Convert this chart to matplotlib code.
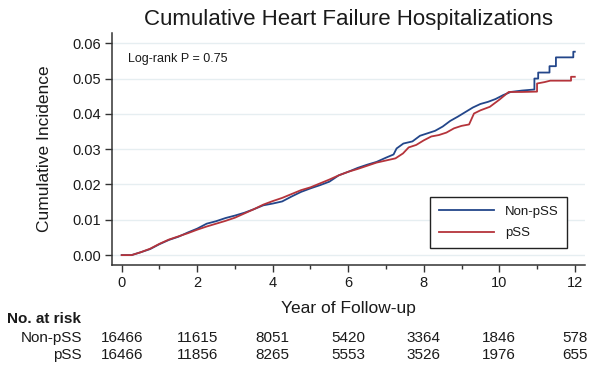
import matplotlib
matplotlib.use('Agg')
from matplotlib import pyplot as plt
from matplotlib.ticker import MultipleLocator
import matplotlib.transforms as mtransforms

# curve knots (year, cumulative incidence)
# repeated years mark the visible vertical steps near the end of follow-up
nonpssT = [0, 0.26, 0.5, 0.75, 1.0, 1.25, 1.5, 1.75, 2.0, 2.25, 2.5, 2.75, 3.0, 3.25, 3.5,
           3.75, 4.0, 4.25, 4.5, 4.75, 5.0, 5.25, 5.5, 5.75, 6.0, 6.25, 6.5, 6.75, 7.0, 7.2,
           7.28, 7.46, 7.7, 7.9, 8.1, 8.3, 8.5, 8.7, 8.9, 9.1, 9.3, 9.5, 9.7, 9.9, 10.1,
           10.3, 10.6, 10.93, 10.93, 11.03, 11.03, 11.33, 11.33, 11.5, 11.5, 11.96, 11.96,
           12.0]
nonpssV = [0, 0, 0.0008, 0.0017, 0.0031, 0.0043, 0.0052, 0.0064, 0.0075, 0.0089, 0.0096,
           0.0105, 0.0112, 0.0120, 0.0130, 0.0141, 0.0146, 0.0152, 0.0166, 0.0179, 0.0189,
           0.0198, 0.0208, 0.0226, 0.0236, 0.0247, 0.0256, 0.0264, 0.0276, 0.0285, 0.0302,
           0.0316, 0.0322, 0.0338, 0.0345, 0.0352, 0.0364, 0.0380, 0.0392, 0.0405, 0.0418,
           0.0428, 0.0434, 0.0442, 0.0453, 0.0462, 0.0466, 0.0469, 0.0500, 0.0500, 0.0517,
           0.0517, 0.0535, 0.0535, 0.0560, 0.0560, 0.0576, 0.0576]
pssT = [0, 0.26, 0.5, 0.75, 1.0, 1.25, 1.5, 1.75, 2.0, 2.25, 2.5, 2.75, 3.0, 3.25, 3.5,
        3.75, 4.0, 4.25, 4.5, 4.75, 5.0, 5.25, 5.5, 5.75, 6.0, 6.25, 6.5, 6.75, 7.0, 7.25,
        7.45, 7.6, 7.8, 8.0, 8.2, 8.4, 8.6, 8.8, 9.0, 9.2, 9.33, 9.5, 9.75, 10.0, 10.25,
        10.6, 11.0, 11.0, 11.2, 11.35, 11.9, 11.9, 12.0]
pssV = [0, 0, 0.0008, 0.0018, 0.0032, 0.0044, 0.0053, 0.0062, 0.0072, 0.0081, 0.0089,
        0.0097, 0.0106, 0.0118, 0.0130, 0.0143, 0.0153, 0.0162, 0.0173, 0.0184, 0.0192,
        0.0203, 0.0214, 0.0226, 0.0236, 0.0244, 0.0253, 0.0262, 0.0268, 0.0274, 0.0288,
        0.0305, 0.0312, 0.0325, 0.0336, 0.0340, 0.0347, 0.0359, 0.0366, 0.0370, 0.0401,
        0.0410, 0.0420, 0.0440, 0.0462, 0.0462, 0.0463, 0.0486, 0.0490, 0.0494, 0.0494,
        0.0505, 0.0505]

# risk table
riskYears = [0, 2, 4, 6, 8, 10, 12]
riskNonpss = [16466, 11615, 8051, 5420, 3364, 1846, 578]
riskPss = [16466, 11856, 8265, 5553, 3526, 1976, 655]

blue = '#23468a'
red = '#b5343b'

plt.rcParams['font.family'] = ['Liberation Sans', 'DejaVu Sans']
plt.rcParams['text.color'] = '#1a1a1a'

W, H = 594, 369
fig = plt.figure(figsize=(W / 100, H / 100), dpi=100)
ax = fig.add_axes([112 / W, 1 - 265 / H, (585 - 112) / W, (265 - 33) / H])

#grid and curves
for yv in [0, 0.01, 0.02, 0.03, 0.04, 0.05, 0.06]:
    ax.axhline(yv, color='#e6eef1', lw=1, zorder=0)
ax.plot(nonpssT, nonpssV, color=blue, lw=1.3, label='Non-pSS')
ax.plot(pssT, pssV, color=red, lw=1.3, label='pSS')

ax.set_xlim(-0.257, 12.27)
ax.set_ylim(-0.0028, 0.0629)
ax.set_xticks(riskYears)
ax.xaxis.set_minor_locator(MultipleLocator(1))
ax.set_yticks([0, 0.01, 0.02, 0.03, 0.04, 0.05, 0.06])
ax.set_yticklabels(['0.00', '0.01', '0.02', '0.03', '0.04', '0.05', '0.06'])
for s in ['top', 'right']:
    ax.spines[s].set_visible(False)
for s in ['left', 'bottom']:
    ax.spines[s].set_color('#333333')
    ax.spines[s].set_linewidth(1.1)
ax.tick_params(axis='both', which='major', length=5, width=1, color='#333333',
               labelsize=10.5, pad=3, labelcolor='#1a1a1a')
ax.tick_params(axis='x', which='minor', length=3, width=1, color='#333333')

ax.text(128 / W, 1 - 62 / H, 'Log-rank P = 0.75', transform=fig.transFigure,
        fontsize=9, va='baseline', ha='left')

leg = ax.legend(loc='lower right', bbox_to_anchor=((567 - 112) / 473, (265 - 248) / 232),
                borderaxespad=0, fontsize=9.5, handlelength=4.2, handletextpad=0.8,
                labelspacing=0.7, borderpad=0.65, fancybox=False, framealpha=1,
                edgecolor='#222222')
leg.get_frame().set_linewidth(1)

#titles
axMid = (112 + 585) / 2 / W
fig.text(axMid, 1 - 25 / H, 'Cumulative Heart Failure Hospitalizations',
         fontsize=16, ha='center', va='baseline')
fig.text(45 / W, 1 - 149 / H, 'Cumulative Incidence', fontsize=12.5, rotation=90,
         ha='center', va='center')
fig.text(axMid, 1 - 312.5 / H, 'Year of Follow-up', fontsize=12.5, ha='center',
         va='baseline')

#number at risk table
fig.text(7 / W, 1 - 323 / H, 'No. at risk', fontsize=11, fontweight='bold',
         ha='left', va='baseline')
trans = mtransforms.blended_transform_factory(ax.transData, fig.transFigure)
for label, counts, ybase in [('Non-pSS', riskNonpss, 342), ('pSS', riskPss, 359)]:
    fig.text(82 / W, 1 - ybase / H, label, fontsize=11, ha='right', va='baseline')
    for yr, n in zip(riskYears, counts):
        ax.text(yr, 1 - ybase / H, str(n), transform=trans, fontsize=11,
                ha='center', va='baseline', clip_on=False)

plt.savefig('out.png', dpi=100)
